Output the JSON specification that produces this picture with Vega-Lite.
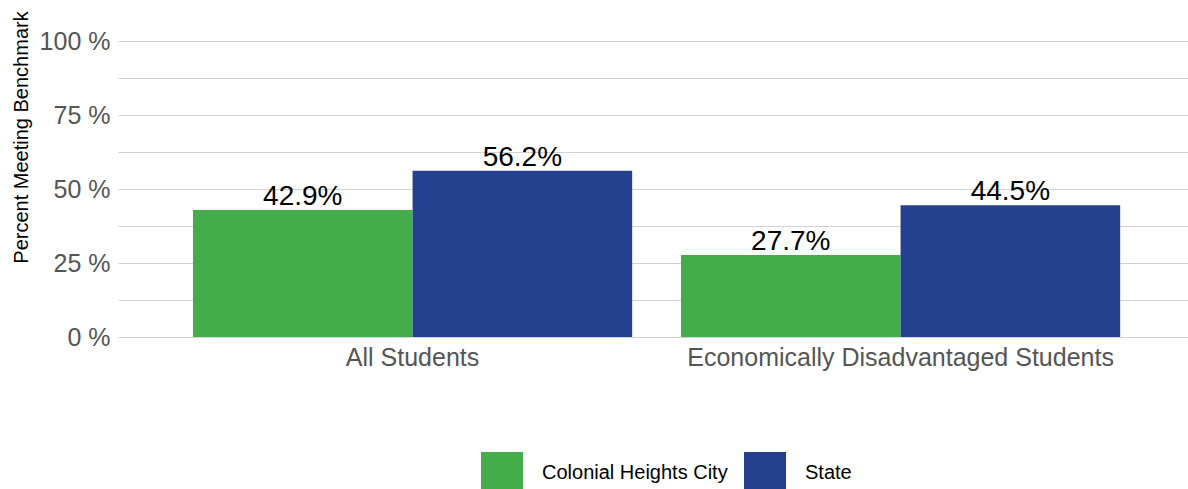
{
  "$schema": "https://vega.github.io/schema/vega-lite/v6.json",
  "width": 1070,
  "height": 296,
  "autosize": {"type": "none"},
  "padding": {"left": 118, "top": 41, "right": 0, "bottom": 152},
  "background": "white",
  "config": {"view": {"stroke": null}},
  "data": {
    "values": [
      {"group": "All Students", "entity": "Colonial Heights City", "pct": 42.9},
      {"group": "All Students", "entity": "State", "pct": 56.2},
      {"group": "Economically Disadvantaged Students", "entity": "Colonial Heights City", "pct": 27.7},
      {"group": "Economically Disadvantaged Students", "entity": "State", "pct": 44.5}
    ]
  },
  "encoding": {
    "x": {
      "field": "group",
      "type": "nominal",
      "sort": null,
      "scale": {"paddingInner": 0.1, "paddingOuter": 0.1463, "align": 0.525},
      "axis": {
        "title": null,
        "labelAngle": 0,
        "ticks": false,
        "domain": false,
        "grid": false,
        "labelFont": "Liberation Sans",
        "labelFontSize": 25,
        "labelColor": "#555555",
        "labelPadding": 8,
        "labelLimit": 0
      }
    },
    "xOffset": {
      "field": "entity",
      "type": "nominal",
      "sort": ["Colonial Heights City", "State"],
      "scale": {"paddingInner": 0, "paddingOuter": 0}
    },
    "y": {
      "field": "pct",
      "type": "quantitative",
      "scale": {"domain": [0, 100], "nice": false},
      "axis": {
        "values": [0, 12.5, 25, 37.5, 50, 62.5, 75, 87.5, 100],
        "labelExpr": "datum.value % 25 == 0 ? datum.value + ' %' : ''",
        "ticks": false,
        "domain": false,
        "gridColor": "#d3d3d3",
        "gridWidth": 1,
        "labelFont": "Liberation Sans",
        "labelFontSize": 25,
        "labelColor": "#555555",
        "labelPadding": 8,
        "title": "Percent Meeting Benchmark",
        "titleFont": "Liberation Sans",
        "titleFontSize": 20,
        "titleFontWeight": "normal",
        "titleColor": "#000000",
        "titlePadding": 8,
        "titleY": 96,
        "titleAlign": "center"
      }
    }
  },
  "layer": [
    {
      "mark": {"type": "bar"},
      "encoding": {
        "color": {
          "field": "entity",
          "type": "nominal",
          "scale": {"domain": ["Colonial Heights City", "State"], "range": ["#44AD4B", "#25408E"]},
          "legend": {
            "title": null,
            "orient": "none",
            "legendX": 363,
            "legendY": 411,
            "direction": "horizontal",
            "padding": 0,
            "symbolType": "square",
            "symbolSize": 1764,
            "symbolStrokeWidth": 0,
            "symbolOpacity": 1,
            "labelFont": "Liberation Sans",
            "labelFontSize": 20,
            "labelColor": "#000000",
            "labelOffset": 19,
            "labelLimit": 0,
            "columnPadding": 16
          }
        }
      }
    },
    {
      "mark": {
        "type": "text",
        "baseline": "alphabetic",
        "dy": -5,
        "font": "Liberation Sans",
        "fontSize": 28,
        "color": "#000000",
        "text": {"expr": "format(datum.pct, '.1f') + '%'"}
      }
    }
  ]
}
